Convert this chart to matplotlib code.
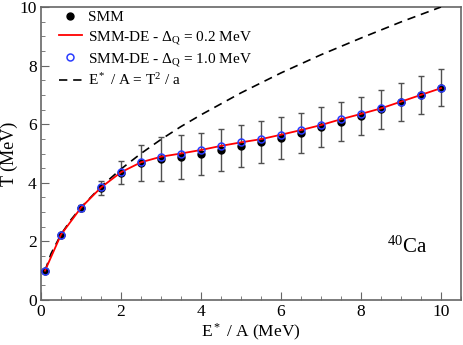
import numpy as np
import matplotlib
matplotlib.use('Agg')
import matplotlib.pyplot as plt
from matplotlib.ticker import MultipleLocator

plt.rcParams['font.family'] = ['Liberation Serif', 'DejaVu Serif']
plt.rcParams['mathtext.fontset'] = 'custom'
plt.rcParams['mathtext.rm'] = 'Liberation Serif'
plt.rcParams['mathtext.it'] = 'Liberation Serif:italic'

# E*/A (MeV)
e_a = [0.1, 0.5, 1.0, 1.5, 2.0, 2.5, 3.0, 3.5, 4.0, 4.5, 5.0,
       5.5, 6.0, 6.5, 7.0, 7.5, 8.0, 8.5, 9.0, 9.5, 10.0]
# SMM temperature and error
t_smm = [0.98, 2.21, 3.14, 3.82, 4.35, 4.67, 4.81, 4.87, 4.99, 5.11, 5.25,
         5.38, 5.53, 5.70, 5.90, 6.09, 6.28, 6.51, 6.75, 6.99, 7.24]
t_err = [0.0, 0.02, 0.09, 0.25, 0.39, 0.61, 0.74, 0.75, 0.71, 0.72, 0.72,
         0.72, 0.71, 0.69, 0.69, 0.67, 0.66, 0.66, 0.65, 0.65, 0.63]
# SMM-DE
t_de02 = [1.0, 2.23, 3.15, 3.84, 4.36, 4.70, 4.89, 5.00, 5.12, 5.26, 5.38,
          5.49, 5.64, 5.80, 5.97, 6.17, 6.35, 6.54, 6.77, 7.00, 7.23]
t_de10 = [1.0, 2.23, 3.15, 3.84, 4.36, 4.70, 4.89, 5.00, 5.12, 5.26, 5.38,
          5.49, 5.64, 5.80, 5.97, 6.17, 6.35, 6.54, 6.77, 7.00, 7.23]
# Fermi gas curve E*/A = T^2/a
e_fg = [0.1, 0.25, 0.5, 0.75, 1.0, 1.5, 2.0, 2.5, 3.0, 3.5, 4.0, 5.0, 6.0, 7.0, 8.0, 9.0, 10.0]
t_fg = [1.0, 1.58, 2.24, 2.74, 3.16, 3.87, 4.47, 5.0, 5.48, 5.92, 6.32, 7.07, 7.75, 8.37, 8.94, 9.49, 10.0]

fig = plt.figure(figsize=(4.63, 3.45), dpi=100)
ax = fig.add_axes([41/463, 45/345, 420/463, 293/345])

ax.errorbar(e_a, t_smm, yerr=t_err, fmt='none', ecolor='#505050', elinewidth=1.0,
            capsize=2.3, capthick=1.0, zorder=2)
ax.plot(e_a, t_smm, 'o', color='black', ms=5, zorder=3, label='SMM')
ax.plot(e_a, t_de02, '-', color='red', lw=1.3, zorder=4,
        label=r'SMM-DE - $\Delta_{\mathrm{Q}}$ = 0.2 MeV')
ax.plot(e_a, t_de10, 'o', mfc='none', mec='#2a3cff', mew=1.1, ms=5, zorder=5,
        label=r'SMM-DE - $\Delta_{\mathrm{Q}}$ = 1.0 MeV')
ax.plot(e_fg, t_fg, '--', color='black', lw=1.2, dashes=(5, 3.5), zorder=3,
        label=r'E$^*$ / A = T$^2$ / a')

ax.set_xlim(0, 10.5)
ax.set_ylim(0, 10)
ax.xaxis.set_major_locator(MultipleLocator(2))
ax.xaxis.set_minor_locator(MultipleLocator(0.5))
ax.yaxis.set_major_locator(MultipleLocator(2))
ax.yaxis.set_minor_locator(MultipleLocator(0.5))
ax.tick_params(which='both', direction='in', top=False, right=False, color='#666666',
               labelsize=12.5, pad=3)
ax.tick_params(which='major', length=6)
ax.tick_params(which='minor', length=3)
for s in ax.spines.values():
    s.set_color('#666666')
    s.set_linewidth(1.2)

ax.set_xlabel(r'E$^*$ / A (MeV)', fontsize=12.5, labelpad=1)
ax.set_ylabel('T (MeV)', fontsize=13, labelpad=1)

ax.text(8.65, 1.8, r'$^{40}$Ca', fontsize=15, va='center')

ax.legend(loc='upper left', frameon=False, fontsize=11, handlelength=1.5,
          borderaxespad=0.0, labelspacing=0.3, handletextpad=0.4,
          bbox_to_anchor=(0.028, 1.008))

fig.savefig('out.png', dpi=100)
